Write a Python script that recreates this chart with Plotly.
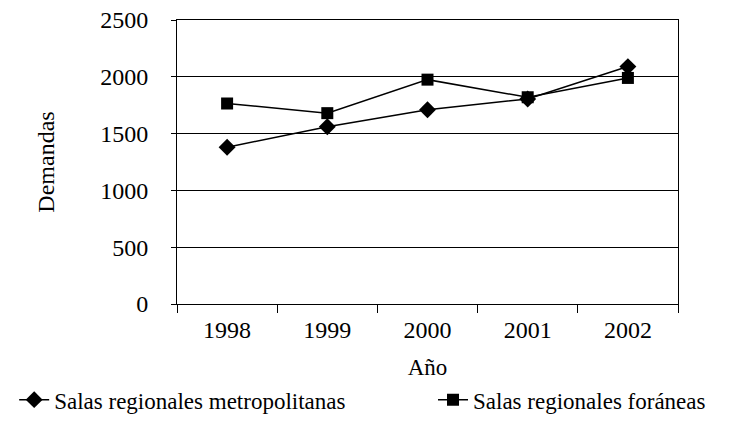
import plotly.graph_objects as go

years = ["1998", "1999", "2000", "2001", "2002"]
metropolitanas = [1380, 1560, 1710, 1805, 2090]
foraneas = [1765, 1680, 1975, 1820, 1990]
y_ticks = [0, 500, 1000, 1500, 2000, 2500]

FONT = "Liberation Serif, Times New Roman, serif"

fig = go.Figure()
fig.add_trace(go.Scatter(
    x=years, y=metropolitanas, mode="lines+markers",
    name="Salas regionales metropolitanas",
    line=dict(color="black", width=1.5),
    marker=dict(symbol="diamond", size=13, color="black"),
    legend="legend",
))
fig.add_trace(go.Scatter(
    x=years, y=foraneas, mode="lines+markers",
    name="Salas regionales foráneas",
    line=dict(color="black", width=1.5),
    marker=dict(symbol="square", size=12, color="black"),
    legend="legend2",
))

legend_common = dict(
    orientation="h", yanchor="middle", xanchor="left",
    font=dict(family=FONT, size=23, color="black"),
    itemwidth=30, bgcolor="rgba(0,0,0,0)",
)

fig.update_layout(
    width=722, height=413,
    margin=dict(l=169, r=52, t=12, b=117, autoexpand=False),
    paper_bgcolor="white", plot_bgcolor="white",
    font=dict(family=FONT, size=24, color="black"),
    showlegend=True,
    legend=dict(x=-0.325, y=-0.337, **legend_common),
    legend2=dict(x=0.511, y=-0.337, **legend_common),
    xaxis=dict(
        type="category", range=[-0.5, len(years) - 0.5],
        tickson="boundaries", ticks="outside", ticklen=8,
        tickcolor="black", tickwidth=1, showgrid=False,
        showline=True, linecolor="black", linewidth=1, mirror=True,
        title=dict(text="Año", standoff=17, font=dict(family=FONT, size=23)),
        tickfont=dict(family=FONT, size=24),
        ticklabelstandoff=4,
    ),
    yaxis=dict(
        range=[0, 2500], tickvals=y_ticks, ticks="outside", ticklen=5,
        tickcolor="black", showgrid=True, gridcolor="black", gridwidth=1.2,
        showline=True, linecolor="black", linewidth=1, mirror=True,
        zeroline=False,
        title=dict(text="Demandas", standoff=38, font=dict(family=FONT, size=24)),
        tickfont=dict(family=FONT, size=24),
        ticklabelstandoff=18, ticklabeloverflow="allow",
    ),
)

fig.write_html("out.html")
